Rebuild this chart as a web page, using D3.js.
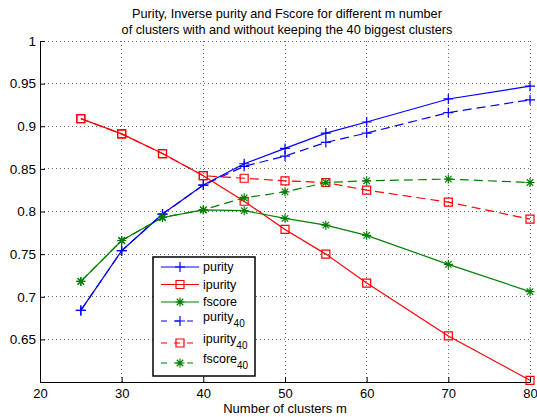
<!DOCTYPE html>
<html>
<head>
<meta charset="utf-8">
<script src="https://cdn.jsdelivr.net/npm/d3@7"></script>
<style>
  body { margin: 0; background: #fff; }
  text { font-family: "Liberation Sans", Arial, Helvetica, sans-serif; fill: #000; }
</style>
</head>
<body>
<div id="chart"></div>
<script>
let clusters = [25, 30, 35, 40, 45, 50, 55, 60, 70, 80];
let purity = [0.684, 0.754, 0.797, 0.831, 0.856, 0.874, 0.892, 0.905, 0.932, 0.947];
let ipurity = [0.909, 0.891, 0.868, 0.842, 0.812, 0.779, 0.750, 0.716, 0.654, 0.602];
let fscore = [0.718, 0.766, 0.793, 0.802, 0.801, 0.792, 0.784, 0.772, 0.738, 0.706];
let purity40 = [0.684, 0.754, 0.797, 0.831, 0.853, 0.865, 0.881, 0.892, 0.916, 0.931];
let ipurity40 = [0.909, 0.891, 0.868, 0.842, 0.839, 0.836, 0.834, 0.825, 0.811, 0.791];
let fscore40 = [0.718, 0.766, 0.793, 0.802, 0.816, 0.823, 0.834, 0.836, 0.838, 0.834];
let xTicks = [20, 30, 40, 50, 60, 70, 80];
let yTicks = [0.65, 0.7, 0.75, 0.8, 0.85, 0.9, 0.95, 1];
let gridY = [0.6, 0.65, 0.7, 0.75, 0.8, 0.85, 0.9, 0.95, 1];

let width = 537;
let height = 417;
let margin = { left: 40, right: 7, top: 41, bottom: 35 };
let w = width - margin.left - margin.right;
let h = height - margin.top - margin.bottom;

let svg = d3.select("#chart").append("svg")
  .attr("width", width)
  .attr("height", height);

let g = svg.append("g").attr("transform", `translate(${margin.left}, ${margin.top})`);

let xScale = d3.scaleLinear().domain([20, 80]).range([0, w]);
let yScale = d3.scaleLinear().domain([0.6, 1]).range([h, 0]);

// grid
g.append("g").selectAll("line").data(xTicks.slice(1)).enter().append("line")
  .attr("x1", (d) => xScale(d)).attr("x2", (d) => xScale(d))
  .attr("y1", 0).attr("y2", h)
  .attr("stroke", "#666").attr("stroke-width", 1).attr("stroke-dasharray", "1,3")
  .attr("shape-rendering", "crispEdges");
g.append("g").selectAll("line").data(gridY).enter().append("line")
  .attr("x1", 0).attr("x2", w)
  .attr("y1", (d) => yScale(d)).attr("y2", (d) => yScale(d))
  .attr("stroke", "#666").attr("stroke-width", 1).attr("stroke-dasharray", "1,3")
  .attr("shape-rendering", "crispEdges");

// axes
g.append("g")
  .attr("transform", `translate(0, ${h})`)
  .call(d3.axisBottom(xScale).tickValues(xTicks).tickSize(-5).tickPadding(7).tickSizeOuter(0))
  .call((a) => a.selectAll("text").attr("font-size", 13).attr("font-family", "Liberation Sans, Arial, sans-serif"))
  .call((a) => a.selectAll("line,path").attr("stroke", "#000"));

g.append("g")
  .call(d3.axisLeft(yScale).tickValues(yTicks).tickSize(-5).tickPadding(4).tickSizeOuter(0)
    .tickFormat((d) => d3.format("")(+d.toFixed(2))))
  .call((a) => a.selectAll("text").attr("font-size", 13.5).attr("font-family", "Liberation Sans, Arial, sans-serif"))
  .call((a) => a.selectAll("line,path").attr("stroke", "#000"));

// marker shapes
let plus = (s) => `M${-s},0H${s}M0,${-s}V${s}`;
let square = (s) => `M${-s},${-s}H${s}V${s}H${-s}Z`;
let star = (s) => {
  let d = `M${-s},0H${s}M0,${-s}V${s}`;
  let k = s * 0.72;
  return d + `M${-k},${-k}L${k},${k}M${-k},${k}L${k},${-k}`;
};

let series = [
  { name: "purity", sub: "", values: purity, color: "#0000ff", dash: null, marker: plus, ms: 5 },
  { name: "ipurity", sub: "", values: ipurity, color: "#ff0000", dash: null, marker: square, ms: 4 },
  { name: "fscore", sub: "", values: fscore, color: "#008000", dash: null, marker: star, ms: 4.5 },
  { name: "purity", sub: "40", values: purity40, color: "#0000ff", dash: "9,5", marker: plus, ms: 5 },
  { name: "ipurity", sub: "40", values: ipurity40, color: "#ff0000", dash: "9,5", marker: square, ms: 4 },
  { name: "fscore", sub: "40", values: fscore40, color: "#008000", dash: "9,5", marker: star, ms: 4.5 },
];

let line = d3.line().x((d) => xScale(d[0])).y((d) => yScale(d[1]));

series.forEach((s) => {
  let pts = clusters.map((c, i) => [c, s.values[i]]);
  g.append("path")
    .datum(pts)
    .attr("d", line)
    .attr("fill", "none")
    .attr("stroke", s.color)
    .attr("stroke-width", 1.2)
    .attr("stroke-dasharray", s.dash);
  g.selectAll(null).data(pts).enter().append("path")
    .attr("transform", (d) => `translate(${xScale(d[0])}, ${yScale(d[1])})`)
    .attr("d", s.marker(s.ms))
    .attr("fill", "none")
    .attr("stroke", s.color)
    .attr("stroke-width", 1.2);
});

// title
svg.append("text").attr("x", 287).attr("y", 18).attr("text-anchor", "middle").attr("font-size", 12.7)
  .text("Purity, Inverse purity and Fscore for different m number");
svg.append("text").attr("x", 287).attr("y", 34).attr("text-anchor", "middle").attr("font-size", 12.7)
  .text("of clusters with and without keeping the 40 biggest clusters");

// x label
svg.append("text").attr("x", margin.left + w / 2).attr("y", 413).attr("text-anchor", "middle").attr("font-size", 13)
  .text("Number of clusters m");

// legend
let legend = svg.append("g").attr("transform", "translate(153, 257)");
legend.append("rect").attr("width", 102).attr("height", 119)
  .attr("fill", "#fff").attr("stroke", "#000").attr("stroke-width", 1.5);
let rowY = [10, 27.5, 45, 64, 86, 106];
series.forEach((s, i) => {
  let y = rowY[i];
  legend.append("line").attr("x1", 8).attr("x2", 46).attr("y1", y).attr("y2", y)
    .attr("stroke", s.color).attr("stroke-width", 1.2)
    .attr("stroke-dasharray", s.dash ? "6,7" : null);
  legend.append("path").attr("transform", `translate(27, ${y})`).attr("d", s.marker(s.ms))
    .attr("fill", "none").attr("stroke", s.color).attr("stroke-width", 1.2);
  let t = legend.append("text").attr("x", 50).attr("y", s.sub ? y - 0.5 : y + 4).attr("font-size", 12.5);
  t.append("tspan").text(s.name);
  if (s.sub) t.append("tspan").attr("dy", 6).attr("font-size", 10).text(s.sub);
});
</script>
</body>
</html>
